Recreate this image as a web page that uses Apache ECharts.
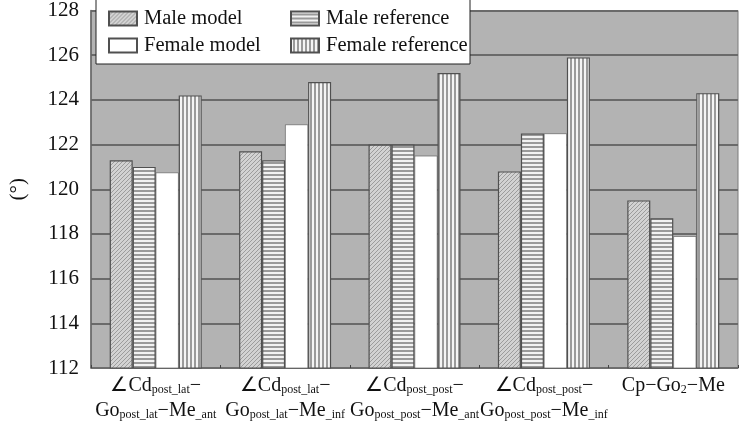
<!DOCTYPE html>
<html>
<head>
<meta charset="utf-8">
<script src="https://cdn.jsdelivr.net/npm/echarts@6/dist/echarts.min.js"></script>
<style>html,body{margin:0;padding:0;background:#fff;}#c{width:741px;height:421px;}</style>
</head>
<body>
<div id="c"></div>
<script>
var categories = ['Cd_post_lat-Go_post_lat-Me_ant', 'Cd_post_lat-Go_post_lat-Me_inf', 'Cd_post_post-Go_post_post-Me_ant', 'Cd_post_post-Go_post_post-Me_inf', 'Cp-Go2-Me'];
var tickLabels = [
  '{m|∠Cd}{s|post_lat}{m|−}\n{m|Go}{s|post_lat}{m|−Me}{s|_ant}',
  '{m|∠Cd}{s|post_lat}{m|−}\n{m|Go}{s|post_lat}{m|−Me}{s|_inf}',
  '{m|∠Cd}{s|post_post}{m|−}\n{m|Go}{s|post_post}{m|−Me}{s|_ant}',
  '{m|∠Cd}{s|post_post}{m|−}\n{m|Go}{s|post_post}{m|−Me}{s|_inf}',
  '{m|Cp−Go}{s|2}{m|−Me}\n{m| }'
];
var seriesNames = ['Male model', 'Male reference', 'Female model', 'Female reference'];
var maleModel = [121.3, 121.7, 122.0, 120.8, 119.5];
var maleReference = [121.0, 121.3, 122.0, 122.5, 118.7];
var femaleModel = [120.75, 122.9, 121.5, 122.5, 117.9];
var femaleReference = [124.2, 124.8, 125.2, 125.9, 124.3];
var yTicks = [112, 114, 116, 118, 120, 122, 124, 126, 128];

function makePattern(kind) {
  var c = document.createElement('canvas');
  var ctx = c.getContext('2d');
  if (kind === 'diag') {
    c.width = 4; c.height = 4;
    ctx.fillStyle = '#d2d2d2'; ctx.fillRect(0, 0, 4, 4);
    ctx.fillStyle = '#9c9c9c';
    for (var i = 0; i < 4; i++) { ctx.fillRect((3 - i), i, 1, 1); }
  } else if (kind === 'hor') {
    c.width = 4; c.height = 4;
    ctx.fillStyle = '#f2f2f2'; ctx.fillRect(0, 0, 4, 4);
    ctx.fillStyle = '#9a9a9a'; ctx.fillRect(0, 2, 4, 2);
  } else if (kind === 'ver') {
    c.width = 4; c.height = 4;
    ctx.fillStyle = '#f4f4f4'; ctx.fillRect(0, 0, 4, 4);
    ctx.fillStyle = '#9a9a9a'; ctx.fillRect(2, 0, 2, 4);
  }
  return { image: c, repeat: 'repeat' };
}

var fills = [makePattern('diag'), makePattern('hor'), '#ffffff', makePattern('ver')];
var dataSets = [maleModel, maleReference, femaleModel, femaleReference];
var serif = 'Liberation Serif, Times New Roman, serif';

var series = seriesNames.map(function (n, i) {
  return {
    name: n,
    type: 'bar',
    data: dataSets[i],
    barWidth: 23,
    barGap: '0%',
    z: 2,
    itemStyle: { color: fills[i], borderColor: '#505050', borderWidth: i === 2 ? 0.6 : 1.2 }
  };
});

var legendText = { fontFamily: serif, fontSize: 20.5, color: '#111', padding: [0, 0, 0, 2] };
var chart = echarts.init(document.getElementById('c'), null, { renderer: 'canvas' });
chart.setOption({
  animation: false,
  backgroundColor: '#ffffff',
  grid: { left: 87, right: 3, top: 8, bottom: 50, show: true, backgroundColor: '#b3b3b3', borderColor: '#7a7a7a', borderWidth: 1 },
  graphic: [{
    type: 'rect', z: 3, shape: { x: 96, y: -1, width: 374, height: 65 },
    style: { fill: '#ffffff', stroke: '#222222', lineWidth: 1 }
  }],
  legend: [
    { data: [seriesNames[0], seriesNames[2]], orient: 'vertical', left: 108, top: 8, padding: 0, itemGap: 6, itemWidth: 28, itemHeight: 14, z: 4,
      icon: 'rect', textStyle: legendText },
    { data: [seriesNames[1], seriesNames[3]], orient: 'vertical', left: 290, top: 8, padding: 0, itemGap: 6, itemWidth: 28, itemHeight: 14, z: 4,
      icon: 'rect', textStyle: legendText }
  ],
  xAxis: {
    type: 'category',
    data: categories,
    axisLine: { lineStyle: { color: '#707070', width: 1.5 } },
    axisTick: { show: true, inside: true, length: 3, lineStyle: { color: '#444' } },
    axisLabel: {
      interval: 0, margin: 3,
      formatter: function (v, idx) { return tickLabels[idx]; },
      rich: {
        m: { fontFamily: serif, fontSize: 20, color: '#111', lineHeight: 25, verticalAlign: 'bottom' },
        s: { fontFamily: serif, fontSize: 12, color: '#111', lineHeight: 19, verticalAlign: 'bottom' }
      }
    }
  },
  yAxis: {
    type: 'value',
    min: yTicks[0], max: yTicks[yTicks.length - 1], interval: 2,
    name: '(°)', nameLocation: 'middle', nameRotate: 90, nameGap: 62,
    nameTextStyle: { fontFamily: serif, fontSize: 21, color: '#111' },
    axisLine: { show: true, lineStyle: { color: '#666', width: 1.5 } },
    axisTick: { show: false },
    axisLabel: { fontFamily: serif, fontSize: 21, color: '#111', margin: 12 },
    splitLine: { show: true, lineStyle: { color: '#6a6a6a', width: 2 } }
  },
  series: series
});
</script>
</body>
</html>
